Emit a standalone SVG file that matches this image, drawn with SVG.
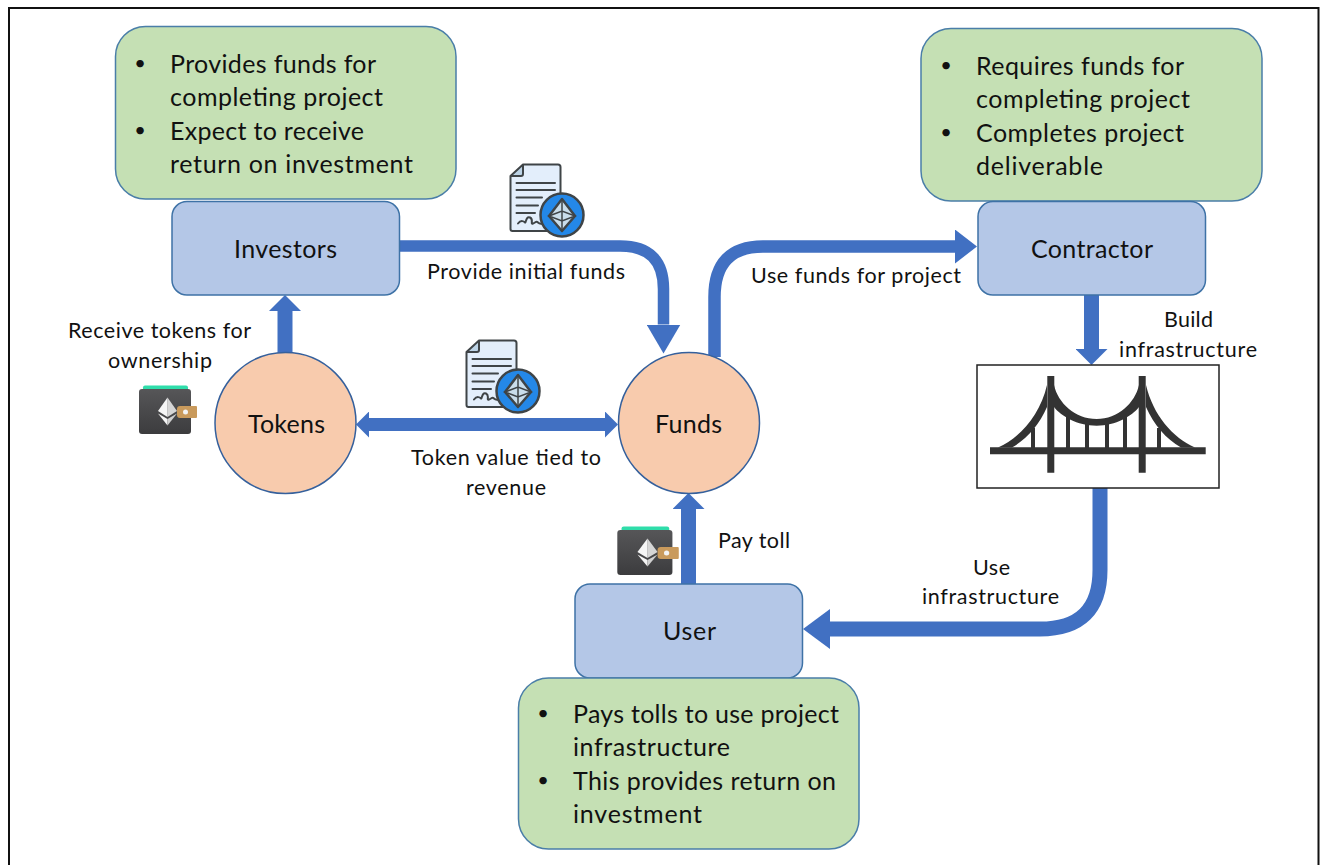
<svg xmlns="http://www.w3.org/2000/svg" width="1322" height="865" viewBox="0 0 1322 865">
<style>
text{font-family:"Lato","Carlito","Open Sans",sans-serif;fill:#111}
.b{font-size:25px}
.bu{font-size:20px;text-anchor:middle}
.n{font-size:25px}
.l{font-size:21.500px}
.m{text-anchor:middle}
.note{fill:#C5E0B4;stroke:#4A7EA8;stroke-width:1.5}
.box{fill:#B4C7E7;stroke:#3E72A6;stroke-width:1.5}
.circ{fill:#F8CBAD;stroke:#35609C;stroke-width:1.5}
.c{fill:none;stroke:#4170C2}
.mk{fill:#4170C2}
.br{fill:#333}
.d{stroke:#3F4447;fill:none;stroke-width:2;stroke-linecap:round;stroke-linejoin:round}
</style>
<defs>
<linearGradient id="wg" x1="0" y1="0" x2="0" y2="1"><stop offset="0" stop-color="#565658"/><stop offset="1" stop-color="#3C3C3E"/></linearGradient>
<marker id="h1" markerUnits="userSpaceOnUse" viewBox="0 0 29 34" refX="0" refY="17" markerWidth="29" markerHeight="34" orient="auto"><path class="mk" d="M0 0L29 17L0 34Z"/></marker>
<marker id="h2" markerUnits="userSpaceOnUse" viewBox="0 0 22 34" refX="0" refY="17" markerWidth="22" markerHeight="34" orient="auto"><path class="mk" d="M0 0L22 17L0 34Z"/></marker>
<marker id="h3" markerUnits="userSpaceOnUse" viewBox="0 0 27 40" refX="0" refY="20" markerWidth="27" markerHeight="40" orient="auto"><path class="mk" d="M0 0L27 20L0 40Z"/></marker>
<marker id="h4" markerUnits="userSpaceOnUse" viewBox="0 0 16 32" refX="0" refY="16" markerWidth="16" markerHeight="32" orient="auto"><path class="mk" d="M0 0L16 16L0 32Z"/></marker>
<marker id="h5" markerUnits="userSpaceOnUse" viewBox="0 0 13 26" refX="0" refY="13" markerWidth="13" markerHeight="26" orient="auto"><path class="mk" d="M0 0L13 13L0 26Z"/></marker>
<marker id="h5s" markerUnits="userSpaceOnUse" viewBox="0 0 13 26" refX="13" refY="13" markerWidth="13" markerHeight="26" orient="auto"><path class="mk" d="M13 0L0 13L13 26Z"/></marker>
<g id="doc">
<path d="M479 340.500H514a2.500 2.500 0 0 1 2.500 2.500V405a2 2 0 0 1-2 2H468.500a2 2 0 0 1-2-2V352Z" fill="#E3EEFB"/>
<path d="M479 340.500V350a2 2 0 0 1-2 2H466.500Z" fill="#BCD3E6"/>
<path class="d" d="M479 340.500H514a2.500 2.500 0 0 1 2.500 2.500V405a2 2 0 0 1-2 2H468.500a2 2 0 0 1-2-2V352ZM479 340.500V350a2 2 0 0 1-2 2H466.500"/>
<path class="d" stroke-width="2.500" d="M472.500 359H511M472.500 366H511M472.500 373.500H498M472.500 381.500H494M472.500 389H491M474 399.500c3-4 6-2 7-1s1-7 5-5 0 7 3 6 3-3 5-1 3 1 5 1"/>
<circle cx="518" cy="391" r="21.500" fill="#2488E8" stroke="#3F4447" stroke-width="2.500"/>
<path d="M518 375L531 392L518 407L505 392Z" fill="#C9DDEB" stroke="#3F4447" stroke-width="2.500" stroke-linejoin="round"/>
<path d="M505 392L518 387L531 392L518 397ZM518 375V407" fill="none" stroke="#3F4447" stroke-width="1.500"/>
</g>
<g id="wallet">
<path d="M143 390V387.500a2 2 0 0 1 2-2H186a2 2 0 0 1 2 2V390Z" fill="#2FDDAA"/>
<rect x="139" y="389" width="52" height="45" rx="3" fill="url(#wg)"/>
<path d="M180 406H196a1 1 0 0 1 1 1V417a1 1 0 0 1-1 1H180a3 3 0 0 1-3-3V409a3 3 0 0 1 3-3Z" fill="#C99A5C"/>
<circle cx="185.500" cy="412" r="2.500" fill="#F3F3F3"/>
<path d="M167.500 397.500L177 411L167.500 417Z" fill="#D5D5D5"/>
<path d="M167.500 397.500L158 411L167.500 417Z" fill="#F5F5F5"/>
<path d="M158 413.500L167.500 425.500V419Z" fill="#F5F5F5"/>
<path d="M177 413.500L167.500 425.500V419Z" fill="#D0D0D0"/>
</g>
</defs>
<rect width="1322" height="865" fill="#fff"/>
<path d="M9 865V8H1318.500V865" fill="none" stroke="#111" stroke-width="2"/>

<g id="connectors">
<path class="c" stroke-width="11.500" marker-end="url(#h1)" d="M399 246H620Q663.500 246 663.500 289V324.500"/>
<path class="c" stroke-width="12.500" marker-end="url(#h2)" d="M714.500 357V297Q714.500 246.500 763 246.500H955"/>
<path class="c" stroke-width="15" marker-end="url(#h3)" d="M1100 488V570Q1100 629 1040 629H830"/>
<path class="c" stroke-width="15" marker-end="url(#h4)" d="M688.500 584V509"/>
<path class="c" stroke-width="15" marker-end="url(#h4)" d="M285 354V311"/>
<path class="c" stroke-width="15" marker-end="url(#h4)" d="M1091.500 295V349"/>
<path class="c" stroke-width="13" marker-start="url(#h5s)" marker-end="url(#h5)" d="M369 424.500H605"/>
</g>

<g id="investors-note"><rect class="note" x="115.500" y="26.500" width="340.500" height="172.500" rx="30"/>
<text class="bu" x="140" y="70">•</text><text class="b" x="170" y="72.500" textLength="206">Provides funds for</text>
<text class="b" x="170" y="105.500" textLength="213">completing project</text>
<text class="bu" x="140" y="136.600">•</text><text class="b" x="170" y="139.500" textLength="194">Expect to receive</text>
<text class="b" x="170" y="172.500" textLength="243">return on investment</text></g>
<g id="investors"><rect class="box" x="172" y="201.500" width="227.500" height="93.500" rx="15"/><text class="n m" x="285.500" y="258" textLength="103">Investors</text></g>

<g id="contractor-note"><rect class="note" x="921" y="28.500" width="341" height="172.500" rx="30"/>
<text class="bu" x="946" y="72.300">•</text><text class="b" x="976" y="74.500" textLength="208">Requires funds for</text>
<text class="b" x="976" y="107.500" textLength="214">completing project</text>
<text class="bu" x="946" y="139.300">•</text><text class="b" x="976" y="141.500" textLength="208">Completes project</text>
<text class="b" x="976" y="174.500" textLength="127">deliverable</text></g>
<g id="contractor"><rect class="box" x="978" y="201.500" width="227.500" height="93.500" rx="15"/><text class="n m" x="1092" y="258" textLength="122">Contractor</text></g>

<g id="tokens"><circle class="circ" cx="285.500" cy="423" r="70.500"/><text class="n m" x="286.500" y="433" textLength="77">Tokens</text></g>
<g id="funds"><circle class="circ" cx="689" cy="423" r="70.500"/><text class="n m" x="688.500" y="433" textLength="67">Funds</text></g>

<g id="user"><rect class="box" x="575" y="584" width="227.500" height="94" rx="15"/><text class="n m" x="689.500" y="640" textLength="53">User</text></g>
<g id="user-note"><rect class="note" x="518.500" y="678" width="340.500" height="171" rx="30"/>
<text class="bu" x="543" y="720.300">•</text><text class="b" x="573" y="722.500" textLength="266">Pays tolls to use project</text>
<text class="b" x="573" y="755.500" textLength="157">infrastructure</text>
<text class="bu" x="543" y="787.300">•</text><text class="b" x="573" y="789.500" textLength="263">This provides return on</text>
<text class="b" x="573" y="822.500" textLength="129">investment</text></g>

<g id="bridge"><rect x="977" y="365" width="242" height="123" fill="#fff" stroke="#222" stroke-width="1.500"/>
<path class="br" d="M1047.300 376H1054.300V472.700H1047.300ZM1138.700 376H1145.700V472.700H1138.700ZM990 447.300H1205.700V454.300H990ZM1031 428H1035V448H1031ZM1066 412H1070V448H1066ZM1085 420H1089V448H1085ZM1105 420H1109V448H1105ZM1123 412H1127V448H1123ZM1157 428H1161V448H1157Z"/>
<path class="br" d="M1047 385C1040 415 1020 438 998 447.500H1012C1027 439 1039 425 1047 407ZM1054 385C1058 403 1075 419 1096.700 419C1118 419 1135 403 1139 385V407C1132 416 1116 425.700 1096.700 425.700C1077 425.700 1061 416 1054 407ZM1146 385C1153 415 1173 438 1195 447.500H1181C1166 439 1154 425 1146 407Z"/></g>

<use href="#doc"/>
<use href="#doc" x="44" y="-176"/>
<use href="#wallet"/>
<use href="#wallet" transform="translate(617.300 530) scale(1.060 1) translate(-139 -389)"/>

<g id="labels">
<text class="l" x="427" y="279" textLength="198">Provide initial funds</text>
<text class="l" x="751" y="283" textLength="210">Use funds for project</text>
<text class="l" x="1164" y="327" textLength="49">Build</text>
<text class="l" x="1119" y="357" textLength="138">infrastructure</text>
<text class="l" x="68" y="338" textLength="183">Receive tokens for</text>
<text class="l" x="108" y="368" textLength="104">ownership</text>
<text class="l" x="411" y="465" textLength="190">Token value tied to</text>
<text class="l" x="466" y="495" textLength="80">revenue</text>
<text class="l" x="718" y="548" textLength="72">Pay toll</text>
<text class="l" x="973" y="575" textLength="37">Use</text>
<text class="l" x="922" y="604" textLength="137">infrastructure</text>
</g>
</svg>
